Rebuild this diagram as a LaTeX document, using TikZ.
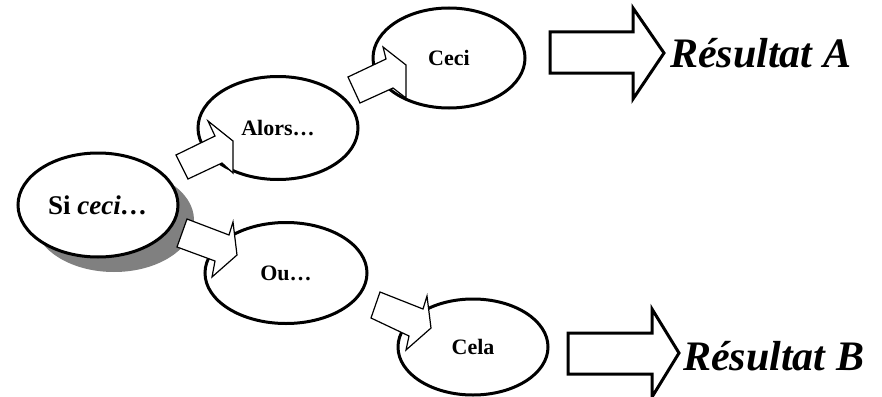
\documentclass[tikz,border=0pt]{standalone}
\usepackage{fontspec}
\setmainfont{Liberation Serif}
\usetikzlibrary{shapes.geometric}
\definecolor{shadowgray}{HTML}{808080}
\tikzset{
  bub/.style={ellipse, draw=black, line width=3pt, fill=white, inner sep=0pt,
    font=\fontsize{22}{25}\selectfont\bfseries},
  smallarrow/.style={draw=black, fill=white, line width=1.2pt, line join=miter},
  bigarrow/.style={draw=black, fill=white, line width=3pt, line join=miter},
  result/.style={inner sep=0pt, anchor=west, font=\fontsize{42}{48}\selectfont\bfseries\itshape}
}
\begin{document}
\begin{tikzpicture}[x=1pt,y=-1pt]
\useasboundingbox (0,0) rectangle (882,396);
% shadow of the first bubble
\coordinate (sic) at (98,205);
\fill[shadowgray] ([shift={(16,15)}]sic) ellipse [x radius=80pt, y radius=52pt];
% bubbles
\node[bub, minimum width=160pt, minimum height=104pt, font=\fontsize{27}{30}\selectfont\bfseries] (si) at (sic) {Si \textit{ceci…}};
\node[bub, minimum width=160pt, minimum height=103pt] (alors) at (278,128) {Alors…};
\node[bub, minimum width=152pt, minimum height=100pt] (ceci) at (449,58) {Ceci};
\node[bub, minimum width=162pt, minimum height=101pt] (ou) at (286,273) {Ou…};
\node[bub, minimum width=150pt, minimum height=96pt] (cela) at (473,347) {Cela};
% small block arrows between bubbles
\draw[smallarrow] (176,155) -- (215,136) -- (208,121) -- (233,141) -- (233,173) -- (222,163) -- (188,179) -- cycle;
\draw[smallarrow] (348,77) -- (386,59) -- (383,47) -- (406,65) -- (406,98) -- (393,88) -- (360,103) -- cycle;
\draw[smallarrow] (187,219) -- (229,235) -- (233,222) -- (237,255) -- (212,277) -- (215,261) -- (177,247) -- cycle;
\draw[smallarrow] (380,292) -- (423,309) -- (427,296) -- (431,328) -- (406,350) -- (409,336) -- (371,318) -- cycle;
% big arrows to the results
\draw[bigarrow] (550,32) -- (633,32) -- (633,8) -- (664,53) -- (633,99) -- (633,73) -- (550,73) -- cycle;
\draw[bigarrow] (568,333) -- (652,333) -- (652,309) -- (679,353) -- (652,397) -- (652,374) -- (568,374) -- cycle;
% results
\node[result] (resA) at (670,53) {Résultat A};
\node[result] (resB) at (683,356) {Résultat B};
\end{tikzpicture}
\end{document}
